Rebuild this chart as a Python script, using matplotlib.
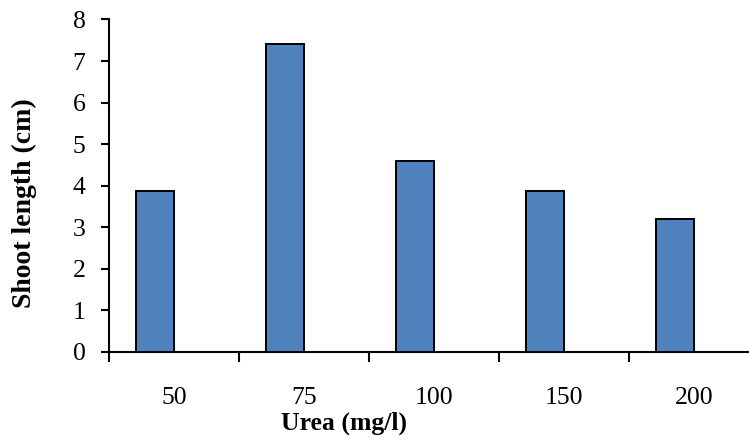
import matplotlib
matplotlib.use("Agg")
import matplotlib.pyplot as plt
import numpy as np

# data
categories = ["50", "75", "100", "150", "200"]
shoot_length = [3.87, 7.40, 4.60, 3.87, 3.20]

plt.rcParams["font.family"] = ["Liberation Serif", "DejaVu Serif"]

fig = plt.figure(figsize=(7.49, 4.43), dpi=100)
ax = fig.add_axes([109 / 749, 91 / 443, 650 / 749, 332.5 / 443])

x = np.arange(len(categories))
bar_w = 0.29
ax.bar(x - bar_w / 2, shoot_length, width=bar_w, color="#4F81BD",
       edgecolor="black", linewidth=1.4, zorder=3)

ax.set_xlim(-0.5, len(categories) - 0.5)
ax.set_ylim(0, 8)
ax.set_yticks(range(0, 9))

# category boundary ticks, labels at the centres
ax.set_xticks(np.arange(-0.5, len(categories), 1.0))
ax.set_xticklabels([])
ax.set_xticks(x, minor=True)
ax.set_xticklabels(categories, minor=True)
ax.tick_params(axis="x", which="major", direction="out", length=7, width=1.5)
ax.tick_params(axis="x", which="minor", length=0, pad=25, labelsize=18.5)
ax.tick_params(axis="y", direction="out", length=6, width=1.5, labelsize=18.5, pad=11)

for side in ("top", "right"):
    ax.spines[side].set_visible(False)
for side in ("left", "bottom"):
    ax.spines[side].set_linewidth(1.5)

ax.set_xlabel("Urea (mg/l)", fontsize=18.5, fontweight="bold")
ax.xaxis.set_label_coords(0.361, -0.178)
ax.set_ylabel("Shoot length (cm)", fontsize=20, fontweight="bold")
ax.yaxis.set_label_coords(-0.111, 0.447)

fig.savefig("out.png", dpi=100)
plt.close(fig)
